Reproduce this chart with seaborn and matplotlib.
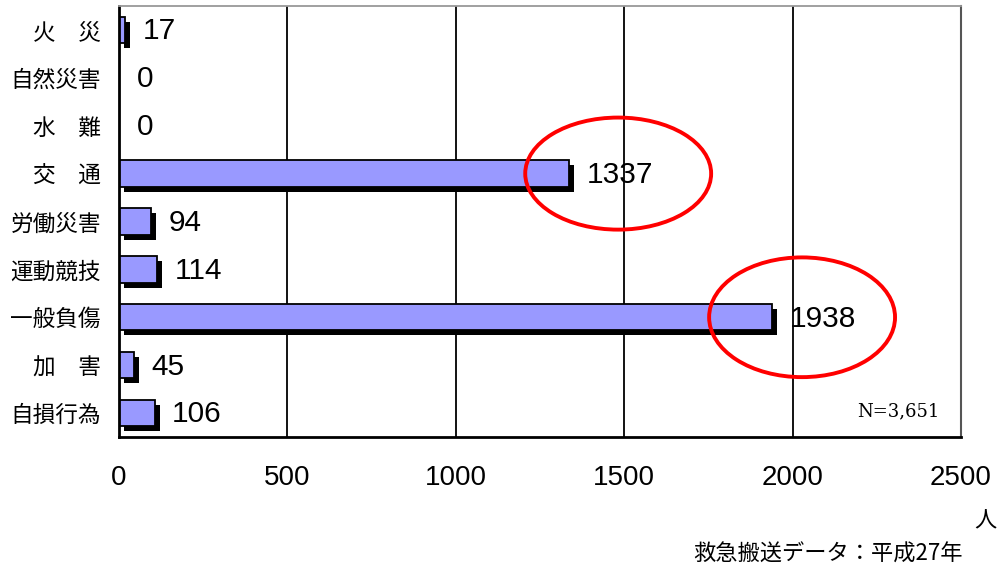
import numpy as np
import pandas as pd
import matplotlib
matplotlib.use('Agg')
import matplotlib.pyplot as plt
import matplotlib.patheffects as pe
from matplotlib.patches import Ellipse
from matplotlib.ticker import FixedLocator
import seaborn as sns

sns.set_style('white')
plt.rcParams['font.family'] = ['Noto Sans CJK JP', 'DejaVu Sans']
plt.rcParams['text.color'] = 'black'
plt.rcParams['xtick.color'] = 'black'
plt.rcParams['ytick.color'] = 'black'

# data
categories = ['火\u3000災', '自然災害', '水\u3000難', '交\u3000通', '労働災害',
              '運動競技', '一般負傷', '加\u3000害', '自損行為']
counts = [17, 0, 0, 1337, 94, 114, 1938, 45, 106]
xticks = [0, 500, 1000, 1500, 2000, 2500]

# circled categories: (index, ellipse centre x, width, height)
highlights = [(3, 1482, 552, 2.34), (6, 2028, 552, 2.5)]

df = pd.DataFrame({'cat': categories, 'n': counts})

fig = plt.figure(figsize=(10.01, 5.69), dpi=100)
ax = fig.add_axes([0.1189, 0.232, 0.8412, 0.7575])

sns.barplot(data=df, x='n', y='cat', color='#9999FF', saturation=1,
            edgecolor='black', linewidth=1.3, width=0.55, ax=ax)

# black drop shadow on the bars
for p in ax.patches:
    if p.get_width() > 0:
        p.set_path_effects([pe.SimplePatchShadow(offset=(3.6, -3.6), shadow_rgbFace='black', alpha=1),
                            pe.Normal()])

ax.set_xlim(0, 2500)
ax.set_ylim(len(categories) - 0.5, -0.5)
ax.set_xticks(xticks)
ax.set_xticklabels([str(t) for t in xticks], fontsize=20, family='Liberation Sans')
ax.tick_params(axis='x', length=0, pad=20)
ax.tick_params(axis='y', which='major', length=0, pad=13, labelsize=16.3)
ax.yaxis.set_minor_locator(FixedLocator(np.arange(0.5, len(categories) - 1, 1)))
ax.tick_params(axis='y', which='minor', direction='in', length=5, width=1.2, color='black')
ax.set_xlabel('')
ax.set_ylabel('')

ax.grid(axis='x', color='black', linewidth=1.3)
ax.set_axisbelow(True)
for side in ['left', 'bottom']:
    ax.spines[side].set_color('black')
    ax.spines[side].set_linewidth(2)
ax.spines['top'].set_color('#999999')
ax.spines['top'].set_linewidth(1.3)
ax.spines['right'].set_color('#555555')
ax.spines['right'].set_linewidth(1.5)

# value labels
for i, v in enumerate(counts):
    ax.text(v + 52, i + 0.03, str(v), va='center', ha='left', fontsize=21.5, family='Liberation Sans')

for i, cx, w, h in highlights:
    ax.add_patch(Ellipse((cx, i), w, h, fill=False, edgecolor='red', linewidth=2.8, clip_on=False))

ax.text(0.975, 0.06, 'N=3,651', transform=ax.transAxes, ha='right', va='center',
        fontsize=13, family='DejaVu Serif')

fig.text(0.984, 0.085, '人', ha='center', va='center', fontsize=16)
fig.text(0.962, 0.026, '救急搬送データ：平成27年', ha='right', va='center', fontsize=16)

fig.savefig('out.png', dpi=100)
